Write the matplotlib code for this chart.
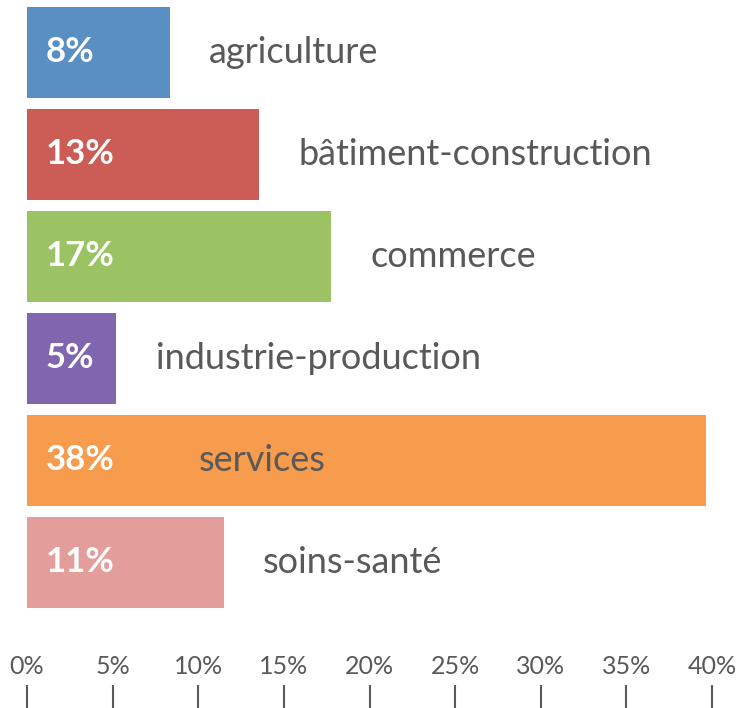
import matplotlib
matplotlib.use("Agg")
import matplotlib.pyplot as plt

# data
categories = ["agriculture", "bâtiment-construction", "commerce",
              "industrie-production", "services", "soins-santé"]
shares = [8, 13, 17, 5, 38, 11]
value_labels = ["8%", "13%", "17%", "5%", "38%", "11%"]
colors = ["#5A8FC4", "#CC5C56", "#9BC364", "#7F66AE", "#F79B4C", "#E39E9B"]
tick_values = [0, 5, 10, 15, 20, 25, 30, 35, 40]
tick_labels = ["0%", "5%", "10%", "15%", "20%", "25%", "30%", "35%", "40%"]

FONT = "Lato"
GREY = "#595959"
W, H, DPI = 754, 708, 100

fig = plt.figure(figsize=(W / DPI, H / DPI), dpi=DPI)

# bars: axes spans x 27..712 px, bars are drawn on their own scale
left, right = 27 / W, 712 / W
ax = fig.add_axes([left, 1 - 613.5 / H, right - left, 612 / H])
ys = list(range(len(categories)))
ax.barh(ys, shares, height=0.892, color=colors, edgecolor="none")
ax.set_xlim(0, 38 * 685 / 679)
ax.set_ylim(len(categories) - 0.5, -0.5)
ax.axis("off")

for y, v, lab, cat in zip(ys, shares, value_labels, categories):
    ax.text(1.05, y, lab, color="white", fontsize=25, fontweight="bold",
            family=FONT, ha="left", va="center")
    x_cat = v + 2.2 if v < 30 else 9.6
    ax.text(x_cat, y, cat, color=GREY, fontsize=26, family=FONT,
            ha="left", va="center")

# percentage scale, labels above downward tick marks
tax = fig.add_axes([left, 0, right - left, 23 / H])
tax.set_xlim(0, 40)
tax.set_xticks(tick_values)
tax.set_xticklabels(tick_labels, family=FONT, fontsize=18, color=GREY)
tax.xaxis.tick_top()
tax.tick_params(axis="x", direction="in", length=16.5, width=1.5,
                color=GREY, pad=5)
tax.set_yticks([])
for s in tax.spines.values():
    s.set_visible(False)
tax.patch.set_visible(False)

fig.savefig("out.png", dpi=DPI)
